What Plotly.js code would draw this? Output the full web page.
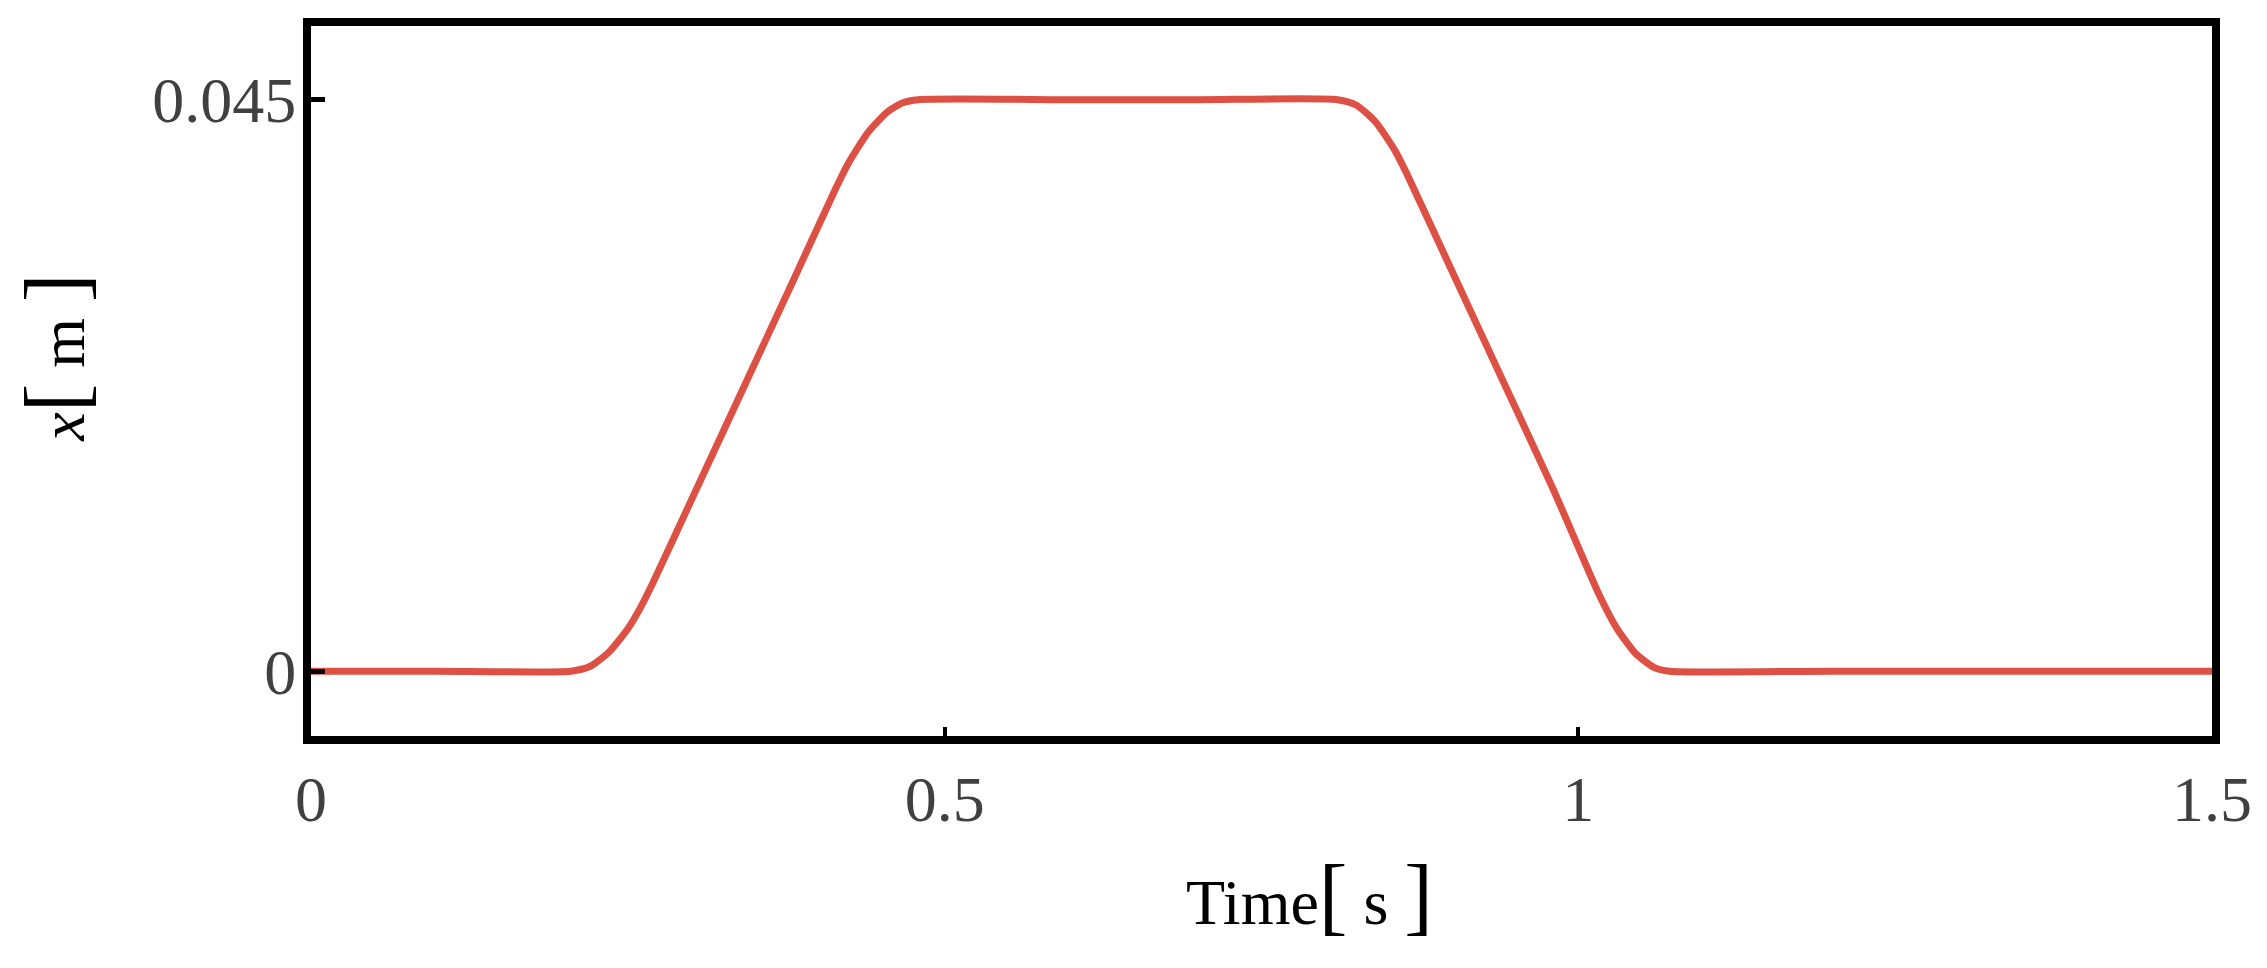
<!DOCTYPE html>
<html>
<head>
<meta charset="utf-8">
<script src="https://cdn.plot.ly/plotly-3.0.1.min.js"></script>
<style>html,body{margin:0;padding:0;background:#fff;}</style>
</head>
<body>
<div id="chart" style="width:2267px;height:968px;"></div>
<script>
// Time [s]
const time = [0, 0.10, 0.205, 0.22, 0.235, 0.25, 0.26, 0.27, 0.30, 0.34, 0.38, 0.414, 0.425, 0.44, 0.455, 0.467, 0.479,
              0.60, 0.70, 0.81, 0.825, 0.84, 0.855, 0.865, 0.90, 0.94, 0.98, 1.017, 1.03, 1.045, 1.06, 1.072, 1.20, 1.35, 1.5];
// Position x [m]
const position = [0, 0, 0, 0.00037, 0.00149, 0.00335, 0.00501, 0.0070, 0.01345, 0.02205, 0.03065, 0.0380, 0.04017, 0.04248, 0.04405, 0.04476, 0.045,
                  0.045, 0.045, 0.045, 0.04456, 0.04324, 0.04105, 0.0391, 0.03157, 0.02297, 0.01437, 0.0059, 0.00344, 0.00142, 0.00028, 0, 0, 0, 0];
const xTickVals = [0, 0.5, 1, 1.5];
const xTickText = ["0", "0.5", "1", "1.5"];
const yTickVals = [0, 0.045];
const yTickText = ["0", "0.045"];

const serif = "Liberation Serif, Times New Roman, serif";

const trace = {
  x: time, y: position, type: "scatter", mode: "lines",
  line: {color: "#dd5044", width: 7, shape: "spline", smoothing: 0.6},
  hoverinfo: "skip", showlegend: false
};

const br = s => '<span style="font-size:86px">' + s + '</span>';
const pad = n => '&nbsp;'.repeat(n);

const layout = {
  width: 2267, height: 968,
  margin: {l: 311, r: 55, t: 26, b: 232},
  paper_bgcolor: "#ffffff", plot_bgcolor: "#ffffff",
  font: {family: serif, color: "#000"},
  xaxis: {
    range: [0, 1.5],
    tickvals: xTickVals, ticktext: xTickText,
    ticks: "inside", ticklen: 9, tickwidth: 4, tickcolor: "#000",
    tickfont: {family: serif, size: 64, color: "#404040"},
    ticklabelstandoff: 0,
    showgrid: false, zeroline: false,
    showline: true, linecolor: "#000", linewidth: 8, mirror: true,
    title: {text: pad(6) + 'Time' + br('[') + ' s ' + br(']'), font: {family: serif, size: 64, color: "#000"}, standoff: 48}
  },
  yaxis: {
    range: [-0.0051, 0.0508],
    tickvals: yTickVals, ticktext: yTickText,
    ticks: "inside", ticklen: 14, tickwidth: 5, tickcolor: "#000",
    tickfont: {family: serif, size: 64, color: "#404040"},
    ticklabelstandoff: -6,
    showgrid: false, zeroline: false,
    showline: true, linecolor: "#000", linewidth: 8, mirror: true,
    title: {text: pad(3) + '<i>x</i>' + br('[') + ' m ' + br(']'), font: {family: serif, size: 64, color: "#000"}, standoff: 50}
  }
};

Plotly.newPlot("chart", [trace], layout, {displayModeBar: false, staticPlot: true});
</script>
</body>
</html>
